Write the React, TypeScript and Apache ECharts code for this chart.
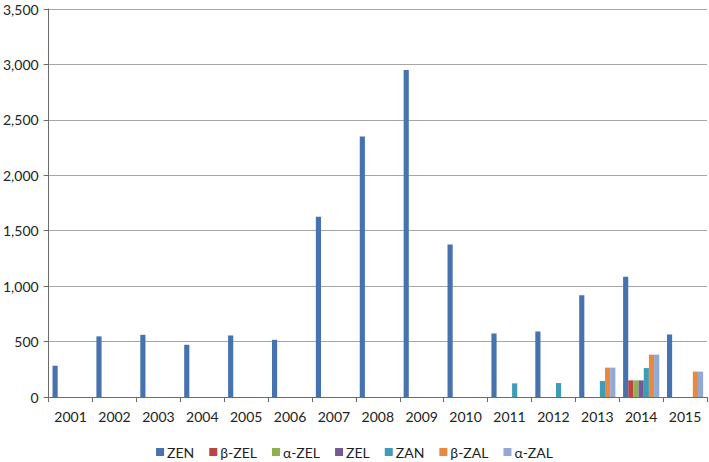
import React, { useEffect, useRef } from "react";
import * as echarts from "echarts";

const years = ["2001","2002","2003","2004","2005","2006","2007","2008","2009","2010","2011","2012","2013","2014","2015"];
const seriesNames = ["ZEN", "β-ZEL", "α-ZEL", "ZEL", "ZAN", "β-ZAL", "α-ZAL"];
const zen = [282, 547, 561, 471, 555, 516, 1627, 2350, 2950, 1375, 573, 591, 918, 1085, 564];
const betaZel = [0, 0, 0, 0, 0, 0, 0, 0, 0, 0, 0, 0, 0, 150, 0];
const alphaZel = [0, 0, 0, 0, 0, 0, 0, 0, 0, 0, 0, 0, 0, 150, 0];
const zel = [0, 0, 0, 0, 0, 0, 0, 0, 0, 0, 0, 0, 0, 150, 0];
const zan = [0, 0, 0, 0, 0, 0, 0, 0, 0, 0, 123, 126, 144, 261, 0];
const betaZal = [0, 0, 0, 0, 0, 0, 0, 0, 0, 0, 0, 0, 265, 382, 229];
const alphaZal = [0, 0, 0, 0, 0, 0, 0, 0, 0, 0, 0, 0, 265, 382, 229];
const colors = ["#4673B0", "#B94441", "#8EB04F", "#735A94", "#3E9CB7", "#E88A3D", "#93A9D5"];

export default function App() {
  const ref = useRef<HTMLDivElement>(null);
  useEffect(() => {
    if (!ref.current) return;
    const chart = echarts.init(ref.current, null, { renderer: "svg" });
    const allData = [zen, betaZel, alphaZel, zel, zan, betaZal, alphaZal];
    const font = "Lato";
    chart.setOption({
      animation: false,
      color: colors,
      grid: { left: 48, right: 2, top: 9, bottom: 65, containLabel: false },
      legend: {
        data: seriesNames,
        left: "center",
        top: 440,
        icon: "rect",
        itemWidth: 8,
        itemHeight: 8,
        itemGap: 15,
        textStyle: { fontFamily: font, fontSize: 14, color: "#222", padding: [0, 0, 0, -2] },
      },
      xAxis: {
        type: "category",
        data: years,
        axisLine: { lineStyle: { color: "#6b6b6b", width: 1 } },
        axisTick: { show: true, length: 5, lineStyle: { color: "#6b6b6b" } },
        axisLabel: { margin: 12, fontFamily: font, fontSize: 14, color: "#222" },
        splitLine: { show: false },
      },
      yAxis: {
        type: "value",
        min: 0,
        max: 3500,
        interval: 500,
        axisLine: { show: true, lineStyle: { color: "#6b6b6b", width: 1 } },
        axisTick: { show: true, length: 5, lineStyle: { color: "#6b6b6b" } },
        axisLabel: {
          margin: 10,
          fontFamily: font,
          fontSize: 14,
          color: "#222",
          formatter: (v: number) => v.toLocaleString("en-US"),
        },
        splitLine: { show: true, lineStyle: { color: "#a6a6a6", width: 1 } },
      },
      series: seriesNames.map((name, i) => ({
        name,
        type: "bar",
        data: allData[i],
        barGap: "0%",
        barCategoryGap: "17.6%",
      })),
    });
    return () => chart.dispose();
  }, []);
  return (
    <div
      ref={ref}
      style={{ position: "fixed", left: 0, top: 0, width: 709, height: 462, background: "#fff" }}
    />
  );
}
